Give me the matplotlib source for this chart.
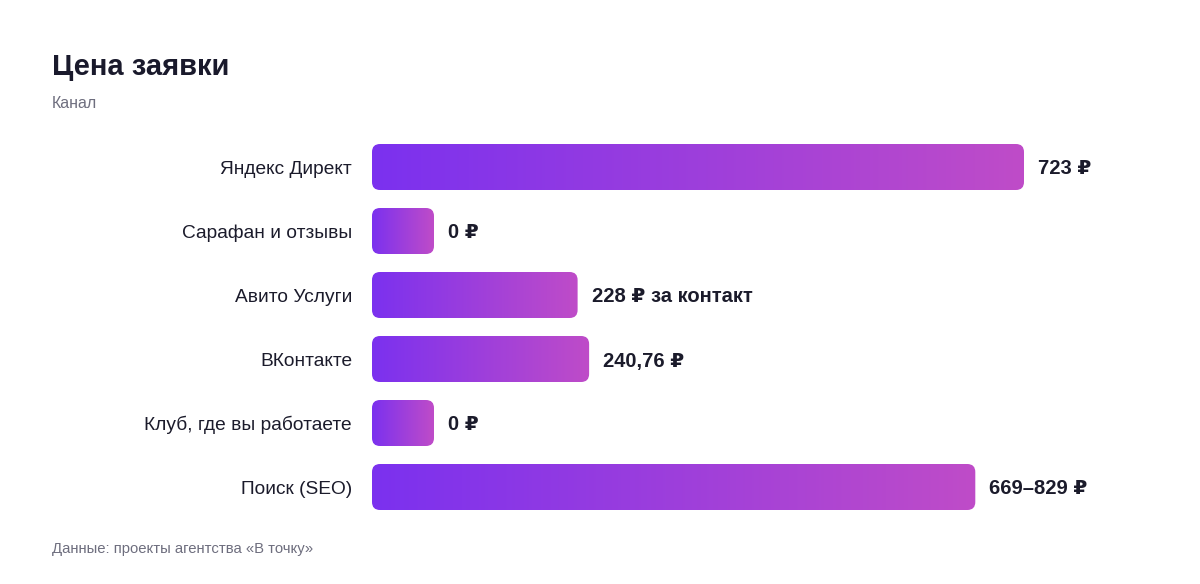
import numpy as np
import matplotlib as mpl
mpl.use("Agg")
import matplotlib.pyplot as plt
from matplotlib.patches import FancyBboxPatch
from matplotlib.colors import LinearSegmentedColormap

plt.rcParams['font.family'] = ['Liberation Sans', 'DejaVu Sans']

# Данные
channels = ["Яндекс Директ", "Сарафан и отзывы", "Авито Услуги",
            "ВКонтакте", "Клуб, где вы работаете", "Поиск (SEO)"]
values = [723, 0, 228, 240.76, 0, 669]
value_labels = ["723 ₽", "0 ₽", "228 ₽ за контакт", "240,76 ₽", "0 ₽", "669–829 ₽"]

W, H = 1200, 584
fig = plt.figure(figsize=(W / 100, H / 100), dpi=100)

# оси: x от 372 до 1024 px, 6 строк по 64 px начиная с 135 px
ax_l, ax_r = 372, 1024
ax_t, ax_b = 135, 135 + 64 * len(channels)
ax = fig.add_axes([ax_l / W, 1 - ax_b / H, (ax_r - ax_l) / W, (ax_b - ax_t) / H])
xmax = max(values)
ax.axis("off")

xpx = xmax / (ax_r - ax_l)      # данные на пиксель по x
ypx = 1 / 64                    # данные на пиксель по y
bar_h = 46 * ypx
min_w = 62 * xpx                # нулевые значения рисуются короткой плашкой
radius = 8 * xpx

cmap = LinearSegmentedColormap.from_list("grad", ["#7b31ef", "#bf4cc8"])
grad = np.linspace(0, 1, 256).reshape(1, -1)

for i, (v, lab) in enumerate(zip(values, value_labels)):
    w = max(v, min_w)
    y0 = i - bar_h / 2
    patch = FancyBboxPatch((0, y0), w, bar_h,
                           boxstyle=f"round,pad=0,rounding_size={radius}",
                           mutation_aspect=ypx / xpx,
                           facecolor="none", edgecolor="none")
    ax.add_patch(patch)
    im = ax.imshow(grad, cmap=cmap, aspect="auto",
                   extent=(0, w, y0 + bar_h, y0), interpolation="bicubic")
    im.set_clip_path(patch)
    ax.text(w + 14 * xpx, i + 2 * ypx, lab, ha="left", va="center", fontsize=14.5,
            fontweight="bold", color="#1b1b2b", clip_on=False)
    ax.text(-20 * xpx, i + 2 * ypx, channels[i], ha="right", va="center",
            fontsize=13.8, color="#1b1b2b", clip_on=False)

ax.set_xlim(0, xmax)
ax.set_ylim(len(channels) - 0.5, -0.5)

fig.text(52 / W, 1 - 67 / H, "Цена заявки", fontsize=21, fontweight="bold",
         color="#1a1a2c", ha="left", va="center")
fig.text(52 / W, 1 - 103 / H, "Канал", fontsize=11.5, color="#6e6e7e",
         ha="left", va="center")
fig.text(52 / W, 1 - 549 / H, "Данные: проекты агентства «В точку»", fontsize=10.7,
         color="#6e6e7e", ha="left", va="center")

fig.savefig("out.png", dpi=100, facecolor="white")
